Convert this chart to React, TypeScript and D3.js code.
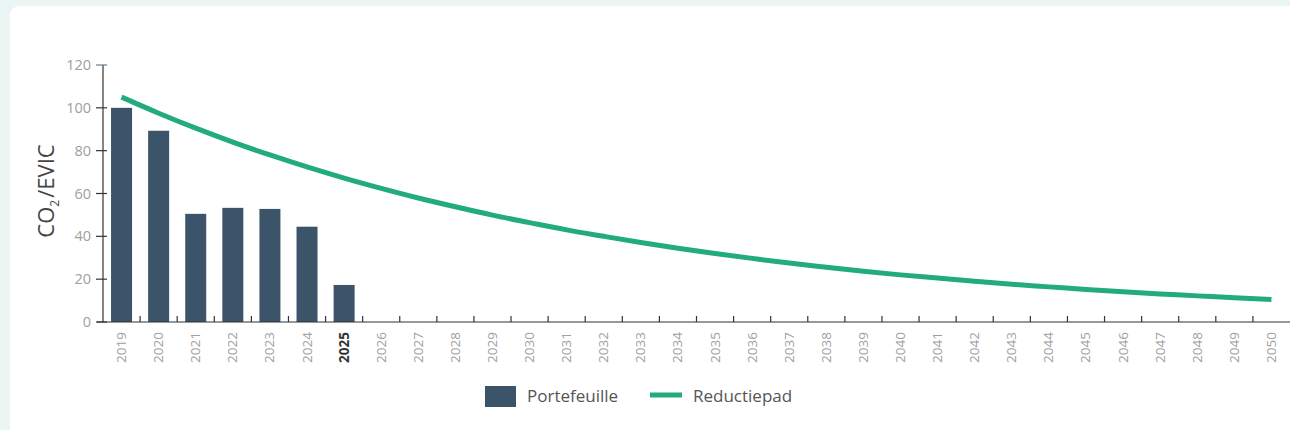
import React from "react";
import * as d3 from "d3";

const years: string[] = [
  "2019","2020","2021","2022","2023","2024","2025","2026","2027","2028","2029","2030",
  "2031","2032","2033","2034","2035","2036","2037","2038","2039","2040","2041","2042",
  "2043","2044","2045","2046","2047","2048","2049","2050",
];
const portefeuilleYears: string[] = ["2019","2020","2021","2022","2023","2024","2025"];
const portefeuille: number[] = [100, 89.3, 50.5, 53.3, 52.8, 44.5, 17.3];
const reductiepad: number[] = [
  105, 97.5, 90.5, 84.0, 78.0, 72.4, 67.2, 62.4, 57.9, 53.8, 49.9, 46.4,
  43.0, 40.0, 37.1, 34.4, 32.0, 29.7, 27.5, 25.6, 23.7, 22.0, 20.5, 19.0,
  17.6, 16.4, 15.2, 14.1, 13.1, 12.2, 11.3, 10.5,
];
const yTicks: number[] = [0, 20, 40, 60, 80, 100, 120];
const highlightYear = "2025";

const W = 1290;
const H = 430;
const FONT = "'Open Sans', 'Noto Sans', sans-serif";

export default function App() {
  const left = 103;
  const right = 1290;
  const top = 65;
  const bottom = 322;

  const xs = d3.scaleBand<string>().domain(years).range([left, right]);
  const y = d3.scaleLinear().domain([0, 120]).range([bottom, top]);

  const line = d3
    .line<number>()
    .x((_, i) => (xs(years[i]) as number) + xs.bandwidth() / 2)
    .y((d) => y(d))
    .curve(d3.curveMonotoneX);

  const step = xs.step();

  return (
    <svg width={W} height={H} style={{ position: "absolute", left: 0, top: 0 }} fontFamily={FONT}>
      <rect x={0} y={0} width={W} height={H} fill="#ebf5f3" />
      <rect x={10} y={6} width={W + 20} height={H + 20} rx={9} fill="#ffffff" />

      {/* bars */}
      {portefeuilleYears.map((yr, i) => {
        const cx = (xs(yr) as number) + step / 2;
        const bw = 21;
        return (
          <rect key={yr} x={cx - bw / 2} y={y(portefeuille[i])} width={bw} height={bottom - y(portefeuille[i])} fill="#3b5469" />
        );
      })}

      {/* line */}
      <path d={line(reductiepad) || ""} fill="none" stroke="#22ab7c" strokeWidth={5} />

      {/* y axis */}
      <line x1={left} x2={left} y1={top} y2={bottom} stroke="#333" strokeWidth={1.2} />
      {yTicks.map((t) => (
        <g key={t}>
          <line x1={left - 7} x2={left + 4} y1={y(t)} y2={y(t)} stroke={t === 120 ? "#6b7f8e" : "#333"} strokeWidth={1.2} />
          <text x={left - 12} y={y(t)} dy="0.35em" textAnchor="end" fontSize={14.5} fill="#a0a0a0">
            {t}
          </text>
        </g>
      ))}
      <text
        transform={`translate(54, 191) rotate(-90)`}
        textAnchor="middle"
        fontSize={22}
        fill="#444"
      >
        CO<tspan fontSize={12} dy={5}>2</tspan>
        <tspan dy={-5} dx={2}>/EVIC</tspan>
      </text>

      {/* x axis */}
      <line x1={left - 6} x2={right} y1={bottom} y2={bottom} stroke="#333" strokeWidth={1.2} />
      {years.slice(1).map((yr) => (
        <line key={yr} x1={xs(yr) as number} x2={xs(yr) as number} y1={bottom} y2={bottom - 6} stroke="#333" strokeWidth={1.2} />
      ))}
      {years.map((yr) => {
        const cx = (xs(yr) as number) + step / 2;
        const hl = yr === highlightYear;
        return (
          <text
            key={yr}
            transform={`translate(${cx + 4.5}, ${bottom + 10}) rotate(-90)`}
            textAnchor="end"
            fontSize={13.5}
            fill={hl ? "#333" : "#a0a0a0"}
            fontWeight={hl ? 700 : 400}
          >
            {yr}
          </text>
        );
      })}

      {/* legend */}
      <rect x={485} y={386} width={31} height={21} fill="#3b5469" />
      <text x={527} y={396} dy="0.35em" fontSize={17} fill="#555">Portefeuille</text>
      <line x1={650} x2={682} y1={395} y2={395} stroke="#22ab7c" strokeWidth={5} />
      <text x={693} y={396} dy="0.35em" fontSize={17} fill="#555">Reductiepad</text>
    </svg>
  );
}
